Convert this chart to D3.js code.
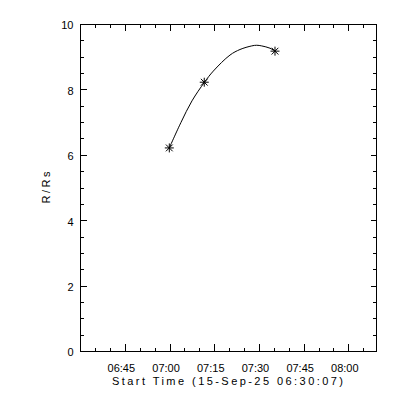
<!DOCTYPE html>
<html>
<head>
<meta charset="utf-8">
<script src="https://cdn.jsdelivr.net/npm/d3@7"></script>
<style>
html,body{margin:0;padding:0;background:#fff;}
svg{display:block;}
text{font-family:"Liberation Sans",Arial,sans-serif;fill:#000;}
</style>
</head>
<body>
<svg id="chart" width="400" height="400"></svg>
<script>
// ---- data ----
const dateStr = "2025-09-15";
const startTime = "06:30:07";
const endTime = "08:09:27";
const measTimes = ["06:59:55", "07:11:39", "07:35:23"];
const measR = [6.21, 8.22, 9.17];
const fitTimes = ["06:59:55", "07:03:50", "07:07:32", "07:11:39", "07:14:41", "07:20:17",
                  "07:23:38", "07:27:34", "07:29:15", "07:30:56", "07:33:42", "07:35:23"];
const fitR = [6.21, 6.99, 7.65, 8.21, 8.56, 9.05, 9.22, 9.33, 9.35, 9.33, 9.26, 9.17];
const xTickLabels = ["06:45", "07:00", "07:15", "07:30", "07:45", "08:00"];
const yTicks = [0, 2, 4, 6, 8, 10];
const yMinorTicks = d3.range(0, 10.01, 0.5);
const xTitle = "Start Time (15-Sep-25 06:30:07)";
const yTitle = "R/Rs";

const parse = t => new Date(dateStr + "T" + t);

// ---- layout ----
const L = 80.5, R = 376.5, T = 24, B = 351;
const svg = d3.select("#chart");
const x = d3.scaleTime().domain([parse(startTime), parse(endTime)]).range([L, R]);
const y = d3.scaleLinear().domain([0, 10]).range([B, T]);

const xMajor = xTickLabels.map(parse);
const xMinor = d3.timeMinute.every(5).range(parse(startTime), parse(endTime));

const g = svg.append("g");

// box
g.append("rect").attr("x", L).attr("y", T).attr("width", R - L).attr("height", B - T)
  .attr("fill", "none").attr("stroke", "#000").attr("stroke-width", 1).attr("shape-rendering", "crispEdges");

// axes using d3 axis generators
function styleAxis(sel) {
  sel.select(".domain").remove();
  sel.selectAll("line").attr("stroke", "#000").attr("shape-rendering", "crispEdges");
}
// bottom
g.append("g").attr("transform", `translate(0,${B})`)
  .call(d3.axisBottom(x).tickValues(xMinor).tickSize(-3.5).tickFormat(""))
  .call(styleAxis);
const xb = g.append("g").attr("transform", `translate(0,${B})`)
  .call(d3.axisBottom(x).tickValues(xMajor).tickSize(-7).tickPadding(20).tickFormat(d3.timeFormat("%H:%M")))
  .call(styleAxis);
xb.selectAll("text").attr("font-size", 11).attr("dx", -4).attr("dy", 0).attr("y", 21)
  .attr("dominant-baseline", "auto").attr("textLength", 27.5).attr("lengthAdjust", "spacingAndGlyphs");
// top
g.append("g").attr("transform", `translate(0,${T})`)
  .call(d3.axisTop(x).tickValues(xMinor).tickSize(-3.5).tickFormat(""))
  .call(styleAxis);
g.append("g").attr("transform", `translate(0,${T})`)
  .call(d3.axisTop(x).tickValues(xMajor).tickSize(-7).tickFormat(""))
  .call(styleAxis);
// left
g.append("g").attr("transform", `translate(${L},0)`)
  .call(d3.axisLeft(y).tickValues(yMinorTicks).tickSize(-3.5).tickFormat(""))
  .call(styleAxis);
const yl = g.append("g").attr("transform", `translate(${L},0)`)
  .call(d3.axisLeft(y).tickValues(yTicks).tickSize(-6).tickPadding(7).tickFormat(d3.format("d")))
  .call(styleAxis);
yl.selectAll("text").attr("font-size", 11).attr("x", -7).attr("dy", "0.45em");
// right
g.append("g").attr("transform", `translate(${R},0)`)
  .call(d3.axisRight(y).tickValues(yMinorTicks).tickSize(-3.5).tickFormat(""))
  .call(styleAxis);
g.append("g").attr("transform", `translate(${R},0)`)
  .call(d3.axisRight(y).tickValues(yTicks).tickSize(-6).tickFormat(""))
  .call(styleAxis);

// titles
g.append("text").attr("x", (L + R) / 2 - 1).attr("y", 385).attr("text-anchor", "middle")
  .attr("font-size", 11).attr("textLength", 231).attr("lengthAdjust", "spacing").text(xTitle);
g.append("text").attr("transform", `translate(50,${(T + B) / 2}) rotate(-90)`)
  .attr("text-anchor", "middle").attr("font-size", 11).attr("textLength", 32)
  .attr("lengthAdjust", "spacing").text(yTitle);

// fit curve
const fitData = fitTimes.map((t, i) => ({t: parse(t), r: fitR[i]}));
const line = d3.line().x(d => x(d.t)).y(d => y(d.r)).curve(d3.curveCatmullRom.alpha(0.5));
g.append("path").datum(fitData).attr("d", line).attr("fill", "none")
  .attr("stroke", "#000").attr("stroke-width", 1);

// asterisk markers
const meas = measTimes.map((t, i) => ({t: parse(t), r: measR[i]}));
const s = 4.5, dd = s * 0.75;
const stars = g.selectAll(".star").data(meas).enter().append("g")
  .attr("transform", d => `translate(${x(d.t)},${y(d.r)})`);
[[0, -s, 0, s], [-s, 0, s, 0], [-dd, -dd, dd, dd], [-dd, dd, dd, -dd]].forEach(c => {
  stars.append("line").attr("x1", c[0]).attr("y1", c[1]).attr("x2", c[2]).attr("y2", c[3])
    .attr("stroke", "#000").attr("stroke-width", 1);
});
</script>
</body>
</html>
